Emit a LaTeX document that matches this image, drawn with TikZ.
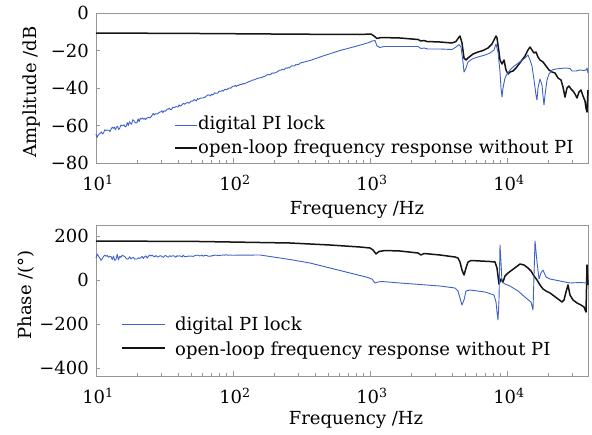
\documentclass[tikz,border=0pt]{standalone}
\usepackage{fontspec}
\setmainfont{DejaVu Serif}
\definecolor{curveblue}{RGB}{62,98,200}
\definecolor{framegray}{RGB}{150,150,150}
\begin{document}
\begin{tikzpicture}[x=1pt,y=-1pt,
  panelframe/.style={draw=framegray, line width=0.8pt},
  tickmark/.style={draw=framegray, line width=0.7pt},
  lockcurve/.style={curveblue, line width=0.9pt, line join=round},
  opencurve/.style={black!92, line width=1.5pt, line join=round},
  lbl/.style={font=\fontsize{18}{21}\selectfont, inner sep=0pt},
  legtext/.style={font=\fontsize{18}{21}\selectfont, inner sep=0pt, anchor=base west}]
\useasboundingbox (0,0) rectangle (592,434);
\pgfmathsetseed{12}

% ---------------- amplitude panel ----------------
\node[panelframe, minimum width=492pt, minimum height=150pt, inner sep=0pt, anchor=north west] (amp) at (96,13) {};
\foreach \yy/\txt in {13/0, 50.5/−20, 88/−40, 125.5/−60, 163/−80}{
  \draw[tickmark] (96,\yy) -- (100,\yy);
  \node[lbl, anchor=east] (ay\yy) at (89,\yy) {\txt};
}
\foreach \d/\xx in {1/96, 2/233, 3/370, 4/507}{
  \draw[tickmark] (\xx,163) -- (\xx,158);
  \node[lbl] (ax\d) at (\xx+2,183) {10\textsuperscript{\d}};
}
\foreach \dd in {96,233,370,507}{
  \foreach \k in {2,...,9}{
    \pgfmathsetmacro{\mx}{\dd+137*log10(\k)}
    \pgfmathparse{\mx<588 ? 1 : 0}
    \ifnum\pgfmathresult=1 \draw[tickmark] (\mx,163) -- (\mx,160); \fi
  }
}
\node[lbl] (ampx) at (357,210) {Frequency /Hz};
\node[lbl, rotate=90] (ampy) at (32,92) {Amplitude /dB};

% open-loop response
\draw[opencurve] (96,33) -- (200,33.5) -- (300,34.2) -- (360,34.5) -- (371,34) -- (374,36) -- (377,38.5) -- (381,37.5) -- (400,38) -- (418,39.5) -- (421,41) -- (424,40.5) -- (427,41.5) -- (440,42) -- (452,43) -- (456,41.5) -- (458,38.5) -- (460,36) -- (462,43) -- (464,58) -- (466,60) -- (468,58) -- (473,54) -- (478,52) -- (483,50.5) -- (488,48) -- (492,44) -- (494,40) -- (496,36) -- (497,38) -- (499,52) -- (500,60) -- (502,64) -- (504,60) -- (506,70) -- (508,74) -- (510,72) -- (513,71) -- (516,68) -- (519,64) -- (522,60) -- (525,56) -- (528,50) -- (530,47) -- (532,50) -- (534,53) -- (536,52) -- (538,57) -- (540,60) -- (543,62) -- (546,66) -- (549,70) -- (552,72) -- (555,73) -- (558,78) -- (561,80) -- (563,87) -- (565,97) -- (567,88) -- (569,86) -- (571,89) -- (573,91) -- (575,94) -- (577,98) -- (579,92) -- (581,90) -- (583,96) -- (585,101) -- (586,108) -- (587,112) -- (588,90);
% with the digital PI lock
\draw[lockcurve] plot[domain=96:300, samples=190] (\x, {135 - 0.35*(\x-96) + 3.5*rand*exp(-(\x-96)/70) + 0.6*rand}) -- (310,60.5) -- (323,56) -- (340,50.5) -- (357,46) -- (369,42.5) -- (372,41) -- (375,40.5) -- (377,46) -- (380,47.5) -- (384,46.5) -- (418,46.5) -- (421,48.5) -- (424,48) -- (428,49) -- (440,49) -- (452,49.5) -- (456,47) -- (459,44.5) -- (461,47) -- (463,62) -- (464,72) -- (466,68) -- (468,62) -- (472,59) -- (478,57) -- (485,55) -- (490,53) -- (494,50) -- (496,44) -- (498,52) -- (500,72) -- (501,88) -- (502,97) -- (503,88) -- (505,78) -- (507,74) -- (510,70) -- (513,67) -- (517,64) -- (521,61) -- (525,58) -- (528,55) -- (530,60) -- (532,66) -- (534,80) -- (536,95) -- (537,100) -- (538,88) -- (540,79) -- (542,85) -- (543,96) -- (544,105) -- (545,95) -- (547,80) -- (549,74) -- (552,70) -- (556,69) -- (560,68.5) -- (566,68) -- (570,68.5) -- (572,71) -- (576,71) -- (580,70) -- (584,70.5) -- (586,70) -- (587,68) -- (588,73);

% legend
\coordinate (la1) at (175,125); \coordinate (la2) at (197,125);
\draw[lockcurve] (la1) -- (la2);
\node[legtext] (lat1) at (198,129.5) {digital PI lock};
\coordinate (lb1) at (175,148); \coordinate (lb2) at (197,148);
\draw[opencurve, line width=1.3pt] (lb1) -- (lb2);
\node[legtext] (lat2) at (198,153.5) {open-loop frequency response without PI};

% ---------------- phase panel ----------------
\node[panelframe, minimum width=492pt, minimum height=151pt, inner sep=0pt, anchor=north west] (ph) at (96,225) {};
\foreach \yy/\txt in {236/200, 280/0, 324/−200, 368/−400}{
  \draw[tickmark] (96,\yy) -- (100,\yy);
  \node[lbl, anchor=east] (py\yy) at (89,\yy) {\txt};
}
\foreach \d/\xx in {1/96, 2/233, 3/370, 4/507}{
  \draw[tickmark] (\xx,376) -- (\xx,371);
  \node[lbl] (px\d) at (\xx+2,396) {10\textsuperscript{\d}};
}
\foreach \dd in {96,233,370,507}{
  \foreach \k in {2,...,9}{
    \pgfmathsetmacro{\mx}{\dd+137*log10(\k)}
    \pgfmathparse{\mx<588 ? 1 : 0}
    \ifnum\pgfmathresult=1 \draw[tickmark] (\mx,376) -- (\mx,373); \fi
  }
}
\node[lbl] (phx) at (356,420) {Frequency /Hz};
\node[lbl, rotate=90] (phy) at (26,295) {Phase /(°)};

% open-loop response
\draw[opencurve] (96,241) -- (200,241.5) -- (290,243) -- (330,245) -- (360,247) -- (370,248) -- (373,250) -- (376,254) -- (379,251.5) -- (385,250.5) -- (400,251) -- (418,253) -- (421,255) -- (424,253.5) -- (440,255) -- (455,257) -- (458,258) -- (460,262) -- (462,270) -- (464,275) -- (466,268) -- (468,262) -- (471,260.5) -- (490,261.5) -- (495,262) -- (497,268) -- (498,276) -- (499,284) -- (501,279) -- (503,282) -- (505,276) -- (508,273) -- (512,270) -- (516,267) -- (520,264) -- (524,265) -- (528,268) -- (531,271) -- (534,276) -- (537,280) -- (540,285) -- (543,289) -- (546,291) -- (550,293) -- (554,296) -- (558,299) -- (562,302) -- (564,300) -- (566,292) -- (568,285) -- (570,295) -- (573,300) -- (577,303) -- (581,305) -- (584,307) -- (586,312) -- (587,265) -- (588,285);
% with the digital PI lock
\draw[lockcurve] plot[domain=96:232, samples=110] (\x, {258 - 0.022*(\x-96) + 5*rand*exp(-(\x-96)/45) + 0.5*rand}) -- (260,255) -- (290,259.5) -- (310,263) -- (330,268) -- (350,273) -- (368,277.5) -- (372,279) -- (375,283) -- (378,282) -- (382,281.5) -- (400,283) -- (420,284.5) -- (440,286) -- (455,288) -- (458,291) -- (460,298) -- (462,305) -- (464,300) -- (466,291) -- (470,290) -- (485,292) -- (494,295) -- (496,302) -- (497,312) -- (498,320) -- (499,300) -- (500,245) -- (501,262) -- (502,282) -- (505,284) -- (510,286) -- (518,291) -- (526,298) -- (531,302) -- (533,310) -- (535,241) -- (537,262) -- (539,279) -- (541,273) -- (543,270) -- (546,277) -- (550,279) -- (560,281) -- (570,283) -- (580,282.5) -- (587,283);

% legend
\coordinate (lc1) at (122,324); \coordinate (lc2) at (165,324);
\draw[lockcurve] (lc1) -- (lc2);
\node[legtext] (lct1) at (175,330.5) {digital PI lock};
\coordinate (ld1) at (122,348); \coordinate (ld2) at (165,348);
\draw[opencurve, line width=1.3pt] (ld1) -- (ld2);
\node[legtext] (lct2) at (175,355) {open-loop frequency response without PI};
\end{tikzpicture}
\end{document}
